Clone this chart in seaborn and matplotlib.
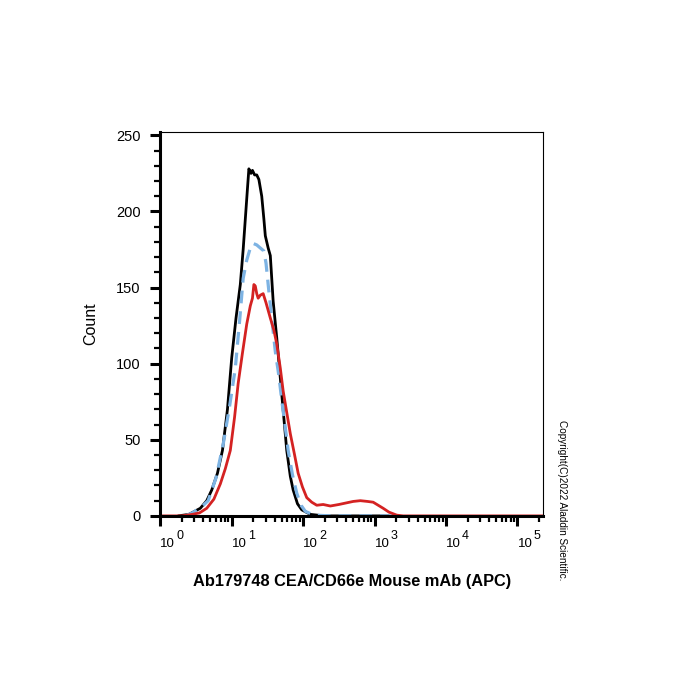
import numpy as np
import pandas as pd
import matplotlib
matplotlib.use("Agg")
import matplotlib.pyplot as plt
import seaborn as sns
from matplotlib.ticker import LogLocator, MultipleLocator, FixedFormatter

# Данные: положения по оси X заданы как показатель степени (log10), счёт — по оси Y
black_logx = [0.25, 0.4, 0.56, 0.65, 0.72, 0.8, 0.87, 0.94, 1.0, 1.06, 1.12, 1.16, 1.19, 1.22, 1.24,
              1.27, 1.29, 1.32, 1.35, 1.38, 1.42, 1.45, 1.47, 1.51, 1.54, 1.58, 1.63, 1.70, 1.77,
              1.82, 1.86, 1.92, 1.98, 2.1, 2.3, 3.2]
black_count = [0, 1, 5, 10, 17, 28, 43, 70, 104, 130, 152, 175, 195, 215, 228,
               225, 227, 224, 224, 221, 210, 195, 184, 176, 171, 141, 117, 80, 43,
               26, 17, 8, 4, 1, 0, 0]

blue_logx = [0.35, 0.45, 0.58, 0.67, 0.78, 0.88, 0.97, 1.05, 1.11, 1.16, 1.21, 1.26, 1.30, 1.35,
             1.40, 1.45, 1.48, 1.51, 1.56, 1.61, 1.66, 1.70, 1.75, 1.79, 1.85, 1.91, 1.97, 2.03,
             2.15, 2.4, 3.3]
blue_count = [0, 2, 6, 10, 25, 47, 72, 97, 128, 156, 168, 176, 179, 178,
              176, 174, 166, 152, 130, 108, 92, 76, 58, 43, 27, 15, 7, 3,
              0.5, 0, 0]

red_logx = [0.0, 0.3, 0.45, 0.55, 0.65, 0.75, 0.84, 0.91, 0.98, 1.04, 1.09, 1.15, 1.21, 1.26, 1.29,
            1.31, 1.33, 1.35, 1.37, 1.40, 1.44, 1.48, 1.54, 1.59, 1.63, 1.68, 1.72, 1.77, 1.82,
            1.88, 1.93, 1.99, 2.05, 2.12, 2.19, 2.28, 2.38, 2.5, 2.6, 2.7, 2.8, 2.9, 2.98, 3.05,
            3.12, 3.2, 3.31, 3.4, 5.36]
red_count = [0, 0, 1, 2, 5, 11, 21, 31, 43, 65, 87, 107, 126, 138, 143,
             152, 151, 146, 143, 145, 146, 140, 130, 122, 113, 97, 82, 68, 54,
             40, 28, 19, 12, 9, 7, 7.5, 6.5, 7.5, 8.5, 9.5, 10, 9.5, 9, 7,
             5, 2.5, 0.5, 0, 0]

decades = [0, 1, 2, 3, 4, 5]
x_label = "Ab179748 CEA/CD66e Mouse mAb (APC)"
y_label = "Count"
copyright_text = "Copyright(C)2022 Aladdin Scientific."

sns.set_style("ticks")
plt.rcParams["font.family"] = ["Liberation Sans", "DejaVu Sans"]
plt.rcParams["text.color"] = "black"
plt.rcParams["axes.labelcolor"] = "black"
plt.rcParams["xtick.color"] = "black"
plt.rcParams["ytick.color"] = "black"

fig = plt.figure(figsize=(7, 7), dpi=100)
ax = fig.add_axes([0.229, 0.263, 0.547, 0.548])

black = pd.DataFrame({"x": np.power(10.0, black_logx), "count": black_count})
blue = pd.DataFrame({"x": np.power(10.0, blue_logx), "count": blue_count})
red = pd.DataFrame({"x": np.power(10.0, red_logx), "count": red_count})

sns.lineplot(data=black, x="x", y="count", color="black", linewidth=2.0, ax=ax, sort=False)
sns.lineplot(data=blue, x="x", y="count", color="#7db3e3", linewidth=2.3, ax=ax, sort=False,
             dashes=False, linestyle=(0, (4, 2.5)))
sns.lineplot(data=red, x="x", y="count", color="#d42222", linewidth=2.0, ax=ax, sort=False)

ax.set_xscale("log")
ax.set_xlim(1, 10 ** 5.36)
ax.set_ylim(0, 252)

# Подписи оси X: "10" + отдельный показатель степени
major_x = [10.0 ** d for d in decades]
ax.set_xticks(major_x)
ax.xaxis.set_major_formatter(FixedFormatter(["10"] * len(decades)))
ax.xaxis.set_minor_locator(LogLocator(base=10, subs=np.arange(2, 10), numticks=20))
ax.yaxis.set_major_locator(MultipleLocator(50))
ax.yaxis.set_minor_locator(MultipleLocator(10))

ax.tick_params(axis="both", which="major", direction="out", length=7, width=2.2, color="black")
ax.tick_params(axis="y", which="major", labelsize=10.5, pad=7)
ax.tick_params(axis="x", which="major", labelsize=9.5, pad=9)
ax.tick_params(axis="both", which="minor", direction="out", length=4.5, width=1.6, color="black")
for lab in ax.get_xticklabels():
    lab.set_horizontalalignment("left")

for d, xv in zip(decades, major_x):
    ax.annotate(str(d), xy=(xv, 0), xycoords=("data", "axes fraction"),
                xytext=(11.5, -19), textcoords="offset points",
                fontsize=9, ha="left", va="bottom")

for side in ["left", "bottom"]:
    ax.spines[side].set_linewidth(2.2)
for side in ["top", "right"]:
    ax.spines[side].set_linewidth(0.8)
    ax.spines[side].set_visible(True)
for sp in ax.spines.values():
    sp.set_color("black")

ax.set_xlabel(x_label, fontsize=11.8, fontweight="bold", labelpad=17)
ax.set_ylabel(y_label, fontsize=11.5, labelpad=13)

fig.text(0.803, 0.40, copyright_text, rotation=-90, fontsize=7.2,
         ha="center", va="top")

plt.savefig("out.png", dpi=100)
